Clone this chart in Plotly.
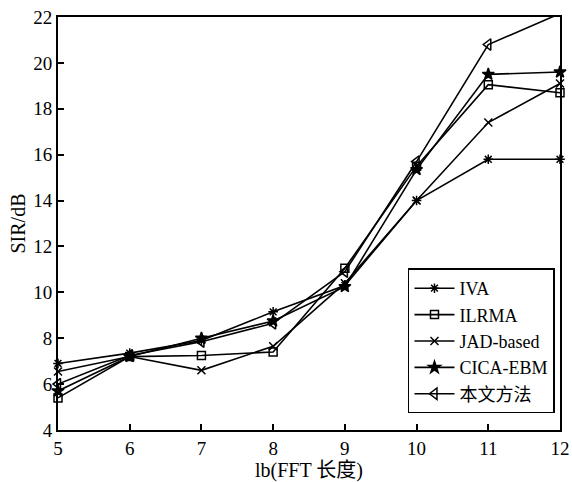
import plotly.graph_objects as go

fft_lb = [5, 6, 7, 8, 9, 10, 11, 12]

iva = [6.9, 7.35, 7.9, 9.15, 10.3, 14.0, 15.8, 15.8]
ilrma = [5.4, 7.2, 7.25, 7.4, 11.05, 15.5, 19.05, 18.7]
jad = [6.55, 7.2, 6.6, 7.65, 10.4, 14.0, 17.4, 19.1]
cica = [5.7, 7.2, 8.0, 8.75, 10.25, 15.35, 19.5, 19.6]
ours = [6.0, 7.25, 7.85, 8.65, 10.9, 15.7, 20.8, 22.15]

series = [
    ("IVA", iva, "asterisk-open", 8),
    ("ILRMA", ilrma, "square-open", 8),
    ("JAD-based", jad, "x-thin-open", 8),
    ("CICA-EBM", cica, "star", 9),
    ("本文方法", ours, "triangle-left-open", 10),
]

FONT = "Liberation Serif, Times New Roman, Noto Sans CJK SC, serif"

fig = go.Figure()
for name, vals, sym, size in series:
    fig.add_trace(go.Scatter(
        x=fft_lb, y=vals, name=name, mode="lines+markers",
        line=dict(color="black", width=1.6),
        marker=dict(symbol=sym, size=size, color="black",
                    line=dict(color="black", width=1.5)),
        cliponaxis=False,
    ))

axis_common = dict(
    showgrid=False, zeroline=False, showline=True, linecolor="black",
    linewidth=2, mirror=True, ticks="inside", ticklen=6, tickwidth=1.5,
    tickcolor="black", tickfont=dict(family=FONT, size=19, color="black"),
    automargin=False,
)

fig.update_layout(
    width=572, height=482,
    margin=dict(l=58, r=12, t=17, b=52),
    paper_bgcolor="white", plot_bgcolor="white",
    font=dict(family=FONT, color="black"),
    xaxis=dict(range=[5, 12], tickvals=fft_lb,
               title=dict(text="lb(FFT 长度)", font=dict(family=FONT, size=20), standoff=0),
               **axis_common),
    yaxis=dict(range=[4, 22], tickvals=list(range(4, 23, 2)),
               title=dict(text="SIR/dB", font=dict(family=FONT, size=20), standoff=2),
               **axis_common),
    legend=dict(x=0.99, y=0.04, xanchor="right", yanchor="bottom",
                bgcolor="white", bordercolor="black", borderwidth=1.5,
                font=dict(family=FONT, size=18, color="black"),
                itemwidth=40, tracegroupgap=0),
)

fig.write_html("out.html")
